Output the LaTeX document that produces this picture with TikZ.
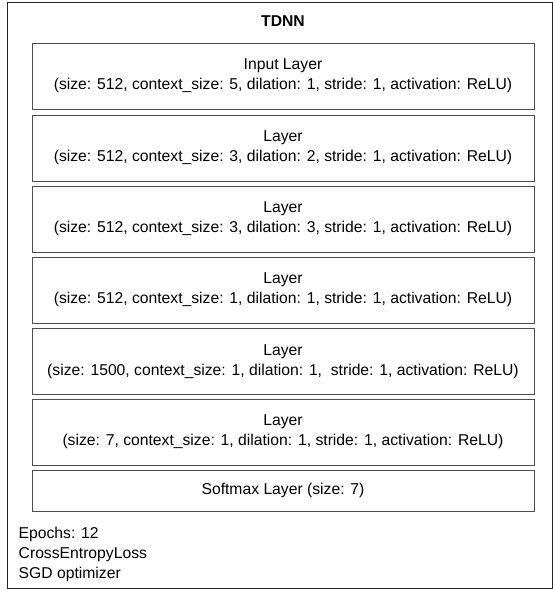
\documentclass[tikz,border=0pt]{standalone}
\usepackage{fontspec}
\setmainfont{Liberation Sans}
\begin{document}
\begin{tikzpicture}[x=1pt,y=-1pt]
\tikzstyle{every node}+=[font=\fontsize{15.7}{20}\selectfont]
\tikzstyle{layer}=[draw=black!70,line width=1pt,minimum width=502pt,minimum height=66pt,align=center,inner sep=0pt]
\useasboundingbox (0,0) rectangle (553,590);
\draw [black!85,line width=1pt] (7,2) rectangle (552,588);
\node (title) at (283,21) {\textbf{TDNN}};
\node [layer] (input) at (283,76) {Input Layer\\(size: 512, context\_size: 5, dilation: 1, stride: 1, activation: ReLU)};
\node [layer] (hidA) at (283,148) {Layer\\(size: 512, context\_size: 3, dilation: 2, stride: 1, activation: ReLU)};
\node [layer] (hidB) at (283,219) {Layer\\(size: 512, context\_size: 3, dilation: 3, stride: 1, activation: ReLU)};
\node [layer] (hidC) at (283,290) {Layer\\(size: 512, context\_size: 1, dilation: 1, stride: 1, activation: ReLU)};
\node [layer] (hidD) at (283,361.5) {Layer\\(size: 1500, context\_size: 1, dilation: 1,\ \ stride: 1, activation: ReLU)};
\node [layer] (hidE) at (283,432) {Layer\\(size: 7, context\_size: 1, dilation: 1, stride: 1, activation: ReLU)};
\node [layer,minimum height=41pt] (softmax) at (283,490.5) {Softmax Layer (size: 7)};
\node [anchor=north west,align=left,inner sep=0pt] (train) at (18.5,526.5) {Epochs: 12\\CrossEntropyLoss\\SGD optimizer};
\end{tikzpicture}
\end{document}
